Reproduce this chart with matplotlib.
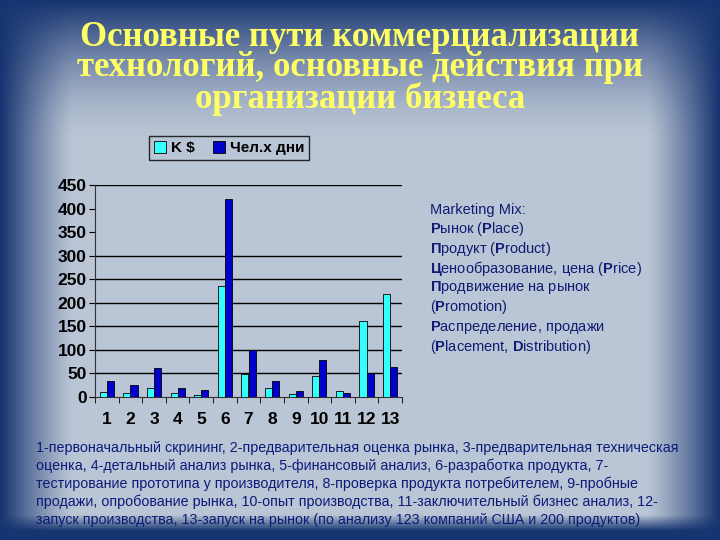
import matplotlib
matplotlib.use("Agg")
import matplotlib.pyplot as plt
import numpy as np

# data
stages = ["1", "2", "3", "4", "5", "6", "7", "8", "9", "10", "11", "12", "13"]
k_usd = [11, 9, 20, 8, 5, 235, 49, 20, 6, 45, 12, 161, 218]
man_days = [34, 25, 62, 20, 15, 420, 100, 34, 13, 78, 9, 50, 64]
series_names = ["K $", "Чел.х дни"]

title_lines = ["Основные пути коммерциализации",
               "технологий, основные действия при",
               "организации бизнеса"]

mix_lines = [r"Marketing Mix:",
             r"$\mathbf{Р}$ынок ($\mathbf{P}$lace)",
             r"$\mathbf{П}$родукт ($\mathbf{P}$roduct)",
             r"$\mathbf{Ц}$енообразование, цена ($\mathbf{P}$rice)",
             r"$\mathbf{П}$родвижение на рынок",
             r"($\mathbf{P}$romotion)",
             r"$\mathbf{Р}$аспределение, продажи",
             r"($\mathbf{P}$lacement, $\mathbf{D}$istribution)"]

note_lines = ["1-первоначальный скрининг, 2-предварительная оценка рынка, 3-предварительная техническая",
              "оценка, 4-детальный анализ рынка, 5-финансовый анализ, 6-разработка продукта, 7-",
              "тестирование прототипа у производителя, 8-проверка продукта потребителем, 9-пробные",
              "продажи, опробование рынка, 10-опыт производства, 11-заключительный бизнес анализ, 12-",
              "запуск производства, 13-запуск на рынок (по анализу 123 компаний США и 200 продуктов)"]

plt.rcParams['mathtext.fontset'] = 'custom'
plt.rcParams['mathtext.rm'] = 'Liberation Sans'
plt.rcParams['mathtext.bf'] = 'Liberation Sans:bold'

fig = plt.figure(figsize=(7.2, 5.4), dpi=100)

# slide background: light centre, dark blue edges
W, H = 360, 270
xx, yy = np.meshgrid(np.linspace(0, 1, W), np.linspace(0, 1, H))
tx = np.clip((np.abs(xx - 0.5) - 0.40) / 0.10, 0, 1) ** 1.2
ty = np.clip(1 - yy / 0.26, 0, 1) ** 1.6
tb = np.clip((yy - 0.955) / 0.03, 0, 1)
d = 1 - (1 - tx) * (1 - ty) * (1 - tb)
light = np.array([186, 197, 213]) / 255
dark = np.array([22, 52, 112]) / 255
img = light[None, None, :] * (1 - d[..., None]) + dark[None, None, :] * d[..., None]
bg = fig.add_axes([0, 0, 1, 1], zorder=-10)
bg.imshow(img, aspect='auto', extent=[0, 1, 0, 1], origin='upper')
bg.axis('off')

# title
for i, line in enumerate(title_lines):
    fig.text(0.5, 1 - (37 + 31 * i) / 540, line, ha='center', va='center',
             fontsize=25, fontweight='bold', family='Liberation Serif', color='#ffff66')

# chart
ax = fig.add_axes([95 / 720, 1 - 397 / 540, 307 / 720, 212 / 540])
ax.patch.set_alpha(0)
x = np.arange(1, len(stages) + 1)
w = 0.3
b1 = ax.bar(x - w / 2, k_usd, w, color='#33ffff', edgecolor='black', linewidth=0.6, zorder=3)
b2 = ax.bar(x + w / 2, man_days, w, color='#0000cc', edgecolor='black', linewidth=0.6, zorder=3)
ax.set_xlim(0.5, len(stages) + 0.5)
ax.set_ylim(0, 450)
ax.set_yticks(range(0, 451, 50))
for v in [50, 100, 150, 200, 250, 300, 450]:
    ax.axhline(v, color='black', linewidth=1, zorder=1)
ax.set_xticks(x)
ax.set_xticklabels(stages)
ax.set_xticks(np.arange(0.5, len(stages) + 1, 1), minor=True)
ax.tick_params(axis='x', which='major', length=0, pad=11)
ax.tick_params(axis='x', which='minor', length=4, direction='out')
ax.tick_params(axis='y', length=4, direction='out', pad=2)
for lab in ax.get_xticklabels() + ax.get_yticklabels():
    lab.set_family(['Liberation Sans Narrow', 'Liberation Sans'])
    lab.set_fontweight('bold')
    lab.set_fontsize(12.5)
    lab.set_color('black')
for s in ['top', 'right']:
    ax.spines[s].set_visible(False)
ax.spines['left'].set_color('#333333')
ax.spines['bottom'].set_color('#333333')

leg = fig.legend([b1, b2], series_names, loc='center', bbox_to_anchor=(229 / 720, 1 - 148 / 540),
                 ncol=2, frameon=True, fancybox=False, handlelength=0.8, handleheight=0.8,
                 handletextpad=0.3, columnspacing=1.2, borderpad=0.3,
                 prop={'family': 'Liberation Sans', 'weight': 'bold', 'size': 11})
leg.get_frame().set_edgecolor('black')
leg.get_frame().set_facecolor('none')
leg.get_frame().set_linewidth(1)

# marketing mix text
for i, line in enumerate(mix_lines):
    fig.text(430 / 720, 1 - (210 + 19.5 * i) / 540, line, ha='left', va='center',
             fontsize=10.5, family='Liberation Sans', color='#101c72')

# footnote
for i, line in enumerate(note_lines):
    fig.text(36 / 720, 1 - (448 + 18 * i) / 540, line, ha='left', va='center',
             fontsize=10.3, family='Liberation Sans', color='#0c1a78')

fig.savefig('out.png', dpi=100)
